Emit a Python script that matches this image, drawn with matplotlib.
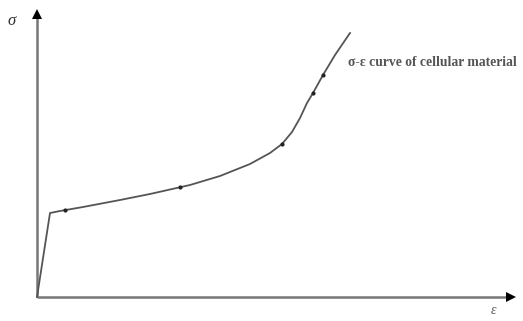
import matplotlib
matplotlib.use("Agg")
import matplotlib.pyplot as plt

# Stress-strain curve of a cellular material (arbitrary units)
strain = [0, 13, 23, 46, 83, 113, 153, 183, 213, 233, 245, 255, 263, 270, 276, 286, 298, 313]
stress = [0, 84, 86, 90, 97, 103, 112, 121, 133, 144, 153, 165, 179, 194, 204, 222, 242, 264]
# points highlighted with small dots
dot_strain = [28, 143, 245, 276, 286]
dot_stress = [87, 110, 153, 204, 222]

curve_label = "σ-ε curve of cellular material"
x_label = "ε"
y_label = "σ"

fig = plt.figure(figsize=(5.23, 3.21), dpi=100)
ax = fig.add_axes([0, 0, 1, 1])
ax.set_xlim(-37, 486)
ax.set_ylim(-24, 297)
ax.axis("off")

axis_col = "#777777"
ax.plot([0, 472], [0, 0], color=axis_col, lw=1.8, solid_capstyle="butt")
ax.plot([0, 0], [0, 283], color=axis_col, lw=1.8, solid_capstyle="butt")
ax.plot([474], [0], marker=">", color="black", ms=7, mew=0)
ax.plot([0], [283], marker="^", color="black", ms=7, mew=0)

ax.plot(strain, stress, color="#555555", lw=1.3, solid_joinstyle="round")
ax.plot(dot_strain, dot_stress, "o", color="#222222", ms=2)

ax.text(-25, 276, y_label, fontsize=12, style="italic", family="Liberation Serif",
        color="#333333", ha="center", va="center")
ax.text(456, -14, x_label, fontsize=10, style="italic", family="Liberation Serif",
        color="#555555", ha="center", va="center")
ax.text(311, 234, curve_label, fontsize=9.8, family="Liberation Serif",
        weight="bold", color="#555555", ha="left", va="center")

fig.savefig("out.png", dpi=100)
